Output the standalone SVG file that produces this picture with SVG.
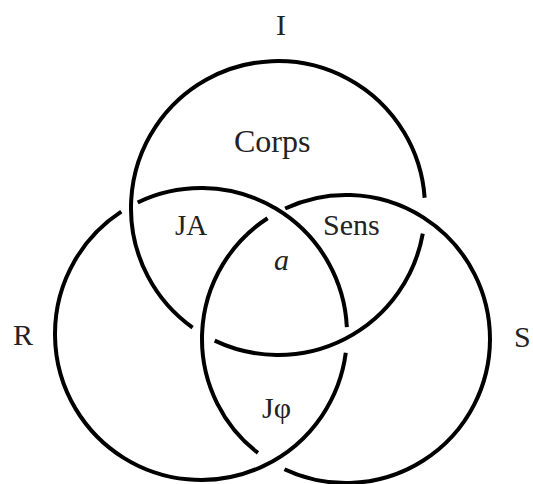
<svg xmlns="http://www.w3.org/2000/svg" width="533" height="484" viewBox="0 0 533 484">
  <style>
    .ring { fill: none; stroke: #000; stroke-width: 4; stroke-linecap: butt; }
    .lbl { font-family: "Liberation Serif", "Times New Roman", serif; font-size: 30px; fill: #222; }
  </style>
  <rect width="533" height="484" fill="#fff"/>
  <g id="connectors">
    <path id="ring-I" class="ring" d="M422.77,233.53 A147,147 0 0 1 214.71,340.68 M192.64,327.68 A147,147 0 1 1 424.64,197.75"/>
    <path id="ring-R" class="ring" d="M345.78,352.80 A146,146 0 1 1 121.27,211.69 M137.69,202.44 A146,146 0 0 1 346.84,327.12"/>
    <path id="ring-S" class="ring" d="M285.14,208.49 A144,144 0 1 1 284.46,469.19 M257.94,452.94 A144,144 0 0 1 267.57,218.23"/>
  </g>
  <g id="node-I"><text class="lbl" x="281" y="35" text-anchor="middle">I</text></g>
  <g id="node-R"><text class="lbl" x="13" y="345">R</text></g>
  <g id="node-S"><text class="lbl" x="514" y="347">S</text></g>
  <g id="node-corps"><text class="lbl" x="234" y="152" style="font-size:32px">Corps</text></g>
  <g id="node-JA"><text class="lbl" x="175" y="235" style="font-size:29px">JA</text></g>
  <g id="node-sens"><text class="lbl" x="323" y="235">Sens</text></g>
  <g id="node-a"><text class="lbl" x="274" y="270" font-style="italic">a</text></g>
  <g id="node-Jphi"><text class="lbl" x="262" y="418">Jφ</text></g>
</svg>
